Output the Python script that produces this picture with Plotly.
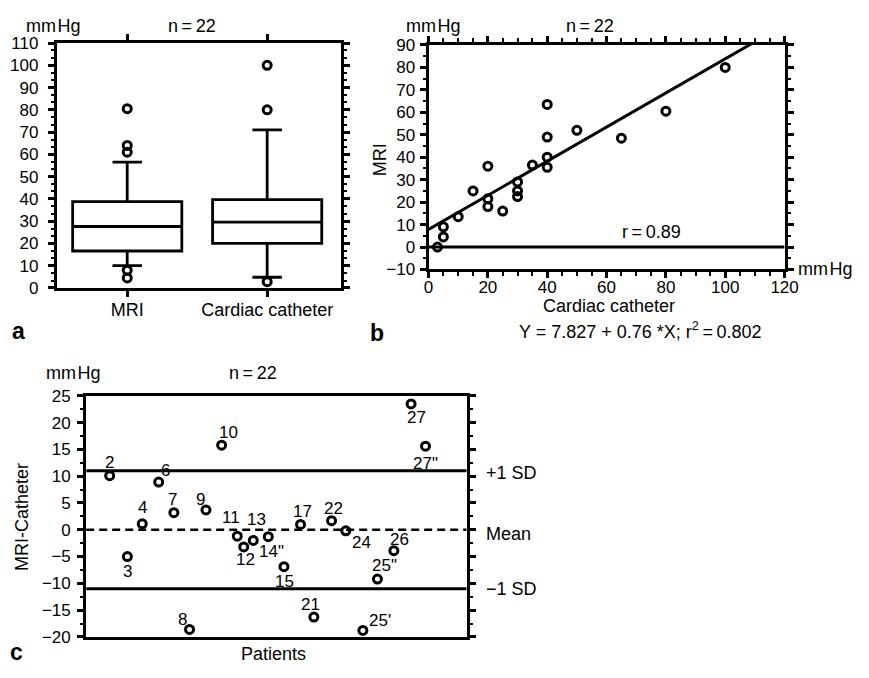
import plotly.graph_objects as go

W, H = 869, 678
FONT = "Liberation Sans, Arial, Helvetica, sans-serif"

# ---------------- Panel a: box plots ----------------
box_categories = ["MRI", "Cardiac catheter"]
box_q1 = [16.6, 20.0]
box_median = [27.6, 29.6]
box_q3 = [38.8, 39.7]
box_lower = [10.0, 4.8]
box_upper = [56.5, 71.0]
outlier_cat = ["MRI", "MRI", "MRI", "MRI", "MRI",
               "Cardiac catheter", "Cardiac catheter", "Cardiac catheter"]
outlier_val = [80.5, 64.0, 61.0, 8.0, 4.5, 100.0, 80.0, 2.8]

# ---------------- Panel b: scatter + regression ----------------
catheter = [3, 5, 5, 10, 15, 20, 20, 20, 25, 30, 30, 30, 35, 40, 40, 40, 40, 50, 65, 80, 100]
mri = [0, 9, 4.5, 13.5, 25, 36, 21.5, 18, 16, 29, 25, 22.5, 36.5, 63.5, 49, 40, 35.5, 52, 48.5, 60.5, 80]
reg_intercept = 7.827
reg_slope = 0.76
r_value = 0.89
r2_value = 0.802
n_patients = 22

# ---------------- Panel c: Bland-Altman ----------------
patient_labels = ["2", "3", "4", "6", "7", "8", "9", "10", "11", "12", "13", '14"',
                  "15", "17", "21", "22", "24", "25'", '25"', "26", "27", '27"']
patient_pos = [1.5, 2.63, 3.58, 4.63, 5.6, 6.6, 7.65, 8.65, 9.65, 10.06, 10.67, 11.63,
               12.63, 13.69, 14.54, 15.67, 16.58, 17.67, 18.6, 19.65, 20.75, 21.67]
diff = [10.1, -5.0, 1.1, 8.9, 3.2, -18.6, 3.7, 15.8, -1.2, -3.2, -2.0, -1.3,
        -6.9, 1.0, -16.3, 1.7, -0.2, -18.8, -9.2, -3.9, 23.5, 15.6]
mean_diff = 0.0
sd_upper = 11.0
sd_lower = -11.0

# label offsets (pixels: dx right, dy down) - styling only
label_offsets = [(0, -13), (0, 15), (0, -16), (7, -12), (-1, -13), (-7, -10), (-5, -10),
                 (7, -13), (-6, -19), (2, 13), (3, -21), (3, 15), (1, 15), (2, -13),
                 (-3, -13), (2, -12), (16, 12), (17, -10), (7, -14), (6, -11), (5, 14), (0, 17)]


def px(x):
    return x / W


def py(y):
    return 1 - y / H


fig = go.Figure()

# Panel a boxes
fig.add_trace(go.Box(
    x=box_categories, q1=box_q1, median=box_median, q3=box_q3,
    lowerfence=box_lower, upperfence=box_upper,
    boxpoints=False, width=0.78, whiskerwidth=0.27,
    line=dict(color="black", width=2.8), fillcolor="rgba(0,0,0,0)",
    xaxis="x", yaxis="y", showlegend=False, hoverinfo="skip"))
fig.add_trace(go.Scatter(
    x=outlier_cat, y=outlier_val, mode="markers",
    marker=dict(symbol="circle-open", size=8, color="black", line=dict(width=3, color="black")),
    xaxis="x", yaxis="y", showlegend=False))

# Panel b
fig.add_trace(go.Scatter(
    x=[0, 120], y=[0, 0], mode="lines", line=dict(color="black", width=3),
    xaxis="x2", yaxis="y2", showlegend=False))
reg_x = [0, 120]
reg_y = [reg_intercept + reg_slope * v for v in reg_x]
fig.add_trace(go.Scatter(
    x=reg_x, y=reg_y, mode="lines", line=dict(color="black", width=3),
    xaxis="x2", yaxis="y2", showlegend=False))
fig.add_trace(go.Scatter(
    x=catheter, y=mri, mode="markers",
    marker=dict(symbol="circle-open", size=8, color="black", line=dict(width=3, color="black")),
    xaxis="x2", yaxis="y2", showlegend=False, cliponaxis=False))

# Panel c
xr = [0, 24.3]
fig.add_trace(go.Scatter(x=xr, y=[sd_upper] * 2, mode="lines",
                         line=dict(color="black", width=3), xaxis="x3", yaxis="y3", showlegend=False))
fig.add_trace(go.Scatter(x=xr, y=[sd_lower] * 2, mode="lines",
                         line=dict(color="black", width=3), xaxis="x3", yaxis="y3", showlegend=False))
fig.add_trace(go.Scatter(x=xr, y=[mean_diff] * 2, mode="lines",
                         line=dict(color="black", width=2.5, dash="8px,5px"),
                         xaxis="x3", yaxis="y3", showlegend=False))
fig.add_trace(go.Scatter(
    x=patient_pos, y=diff, mode="markers",
    marker=dict(symbol="circle-open", size=8, color="black", line=dict(width=3, color="black")),
    xaxis="x3", yaxis="y3", showlegend=False, cliponaxis=False))

axis_common = dict(showline=True, linecolor="black", linewidth=3, mirror="ticks",
                   ticks="outside", ticklen=6, tickwidth=2.5, tickcolor="black",
                   showgrid=False, zeroline=False, tickfont=dict(size=17, color="black"))

fig.update_layout(
    width=W, height=H, margin=dict(l=0, r=0, t=0, b=0),
    paper_bgcolor="white", plot_bgcolor="white",
    font=dict(family=FONT, color="black", size=17),
    showlegend=False,
    xaxis=dict(domain=[px(53), px(343)], anchor="y", range=[-0.503, 1.524],
               type="category", tickfont=dict(size=18, color="black"),
               **{k: v for k, v in axis_common.items() if k != "tickfont"}, ticklabelstandoff=-3),
    yaxis=dict(domain=[py(287), py(35)], anchor="x", range=[0, 110], dtick=10,
               minor=dict(dtick=10 / 3, ticks="outside", ticklen=3, tickwidth=2, tickcolor="black"),
               **axis_common, ticklabelstandoff=6),
    xaxis2=dict(domain=[px(433), px(797)], anchor="y2", range=[0, 120], dtick=20,
                minor=dict(dtick=5, ticks="outside", ticklen=4, tickwidth=2, tickcolor="black"),
                **axis_common, ticklabelstandoff=-6),
    yaxis2=dict(domain=[py(268), py(37)], anchor="x2", range=[-10, 90], dtick=10,
                minor=dict(dtick=5, ticks="outside", ticklen=3, tickwidth=2, tickcolor="black"),
                **axis_common, ticklabelstandoff=1),
    xaxis3=dict(domain=[px(83), px(472)], anchor="y3", range=xr, showticklabels=False,
                showline=True, linecolor="black", linewidth=3, mirror=True, ticks="",
                showgrid=False, zeroline=False),
    yaxis3=dict(domain=[py(646), py(398)], anchor="x3", range=[-20, 25], dtick=5,
                minor=dict(dtick=2.5, ticks="outside", ticklen=3, tickwidth=2, tickcolor="black"),
                **axis_common, ticklabelstandoff=3),
)

ann = []


def text(t, x, y, size=18, xanchor="center", angle=0, bold=False, **kw):
    if bold:
        t = "<b>" + t + "</b>"
    ann.append(dict(text=t, x=px(x), y=py(y), xref="paper", yref="paper", showarrow=False,
                    xanchor=xanchor, yanchor="middle", textangle=angle,
                    font=dict(size=size, family=FONT, color="black"), **kw))


unit = "mm\u200aHg"
n_text = f"n\u2009=\u2009{n_patients}"
# panel a
text(unit, 50, 17)
text(n_text, 191, 17)
text("a", 14, 331, size=23, bold=True)
# panel b
text(unit, 438, 17)
text(n_text, 598, 17)
text("MRI", 383, 155, angle=-90)
text(unit, 869, 268, xanchor="right")
text("Cardiac catheter", 617, 306)
text(f"Y = {reg_intercept} + {reg_slope} *X; r<sup>2</sup>\u2009=\u2009{r2_value}", 650, 331)
text("b", 380, 333, size=23, bold=True)
ann.append(dict(text=f"r\u2009=\u2009{r_value}", x=75, y=6.5, xref="x2", yref="y2",
                showarrow=False, font=dict(size=18, family=FONT, color="black")))
# panel c
text(unit, 70, 375)
text(n_text, 254, 375)
text("MRI-Catheter", 18, 523, angle=-90)
text("Patients", 275, 664)
text("c", 12, 662, size=23, bold=True)
for lab, val, ys in [("+1 SD", sd_upper, -2), ("Mean", mean_diff, -4), ("\u22121 SD", sd_lower, 0)]:
    ann.append(dict(text=lab, x=px(490), y=val, xref="paper", yref="y3", showarrow=False,
                    xanchor="left", yshift=ys, font=dict(size=18, family=FONT, color="black")))
for lab, xv, yv, (dx, dy) in zip(patient_labels, patient_pos, diff, label_offsets):
    ann.append(dict(text=lab, x=xv, y=yv, xref="x3", yref="y3", showarrow=False,
                    xshift=dx, yshift=-dy, font=dict(size=17, family=FONT, color="black")))

fig.update_layout(annotations=ann)
fig.write_html("out.html", config={"displayModeBar": False},
               post_script="document.body.style.margin='0';document.body.style.overflow='hidden';")
